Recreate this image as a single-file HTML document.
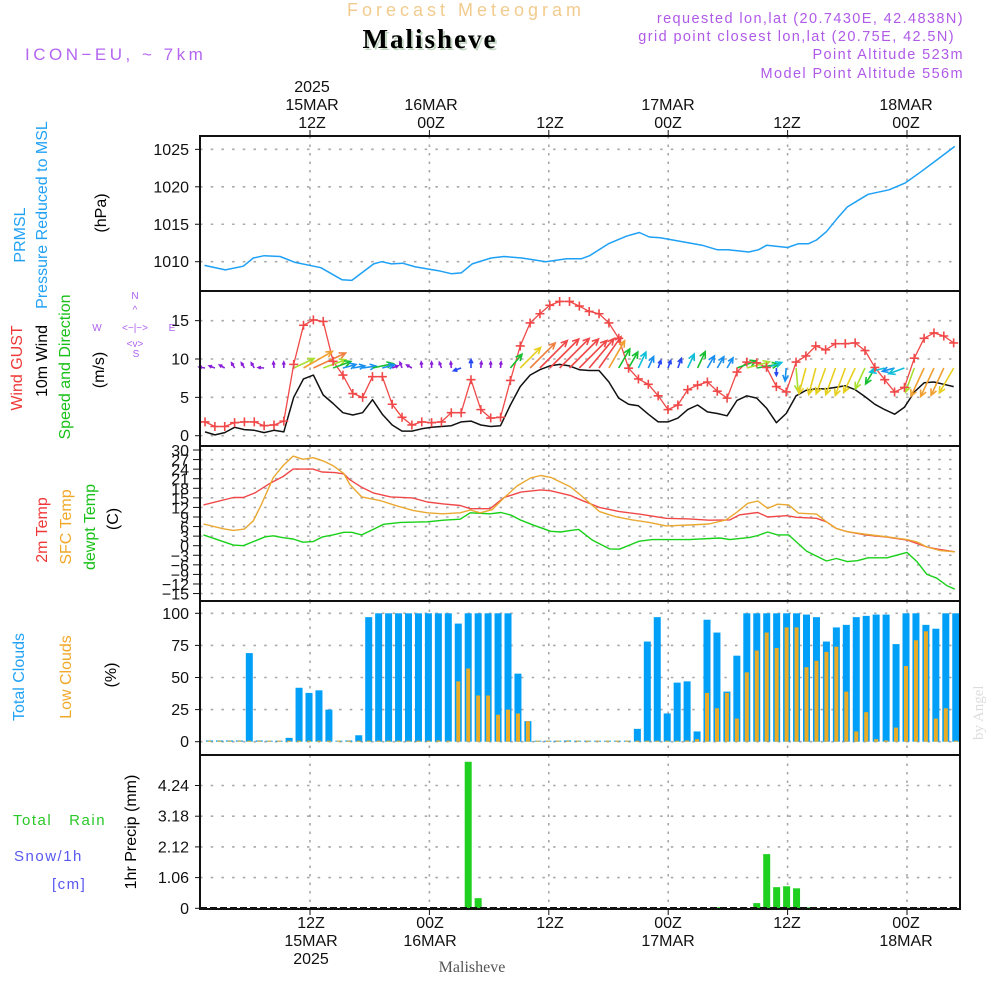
<!DOCTYPE html>
<html><head><meta charset="utf-8"><title>Meteogram Malisheve</title>
<style>
html,body{margin:0;padding:0;background:#fff;}
svg{display:block;font-family:"Liberation Sans",sans-serif;}
</style></head>
<body>
<svg id="chart" width="1000" height="1000" viewBox="0 0 1000 1000" xmlns="http://www.w3.org/2000/svg">
  <rect x="0" y="0" width="1000" height="1000" fill="#fff"/>
  <text x="466" y="16" text-anchor="middle" font-size="18" fill="#f2cb8e" letter-spacing="4">Forecast Meteogram</text>
  <text x="432" y="50" text-anchor="middle" font-family="Liberation Serif,serif" font-weight="bold" font-size="27" fill="#c6d8c6" letter-spacing="2">Malisheve</text>
  <text x="430" y="48" text-anchor="middle" font-family="Liberation Serif,serif" font-weight="bold" font-size="27" fill="#000" letter-spacing="2">Malisheve</text>
  <text x="25" y="60" font-size="17" fill="#b466f0" letter-spacing="3.5">ICON−EU, ~ 7km</text>
  <g font-size="14.5" fill="#b05ae8" text-anchor="end" letter-spacing="1.4">
    <text x="964" y="23">requested lon,lat (20.7430E, 42.4838N)</text>
    <text x="955" y="41">grid point closest lon,lat (20.75E, 42.5N)</text>
    <text x="964" y="59">Point Altitude 523m</text>
    <text x="964" y="78">Model Point Altitude 556m</text>
  </g>
  <g font-size="16" fill="#111" text-anchor="middle">
    <text x="312" y="92">2025</text>
    <text x="312" y="110">15MAR</text>
    <text x="312" y="128">12Z</text>
    <text x="431" y="110">16MAR</text>
    <text x="431" y="128">00Z</text>
    <text x="550" y="128">12Z</text>
    <text x="668" y="110">17MAR</text>
    <text x="668" y="128">00Z</text>
    <text x="787" y="128">12Z</text>
    <text x="906" y="110">18MAR</text>
    <text x="906" y="128">00Z</text>
  </g>
  <g font-size="16" fill="#111" text-anchor="middle">
    <text x="311" y="928">12Z</text>
    <text x="311" y="946">15MAR</text>
    <text x="311" y="964">2025</text>
    <text x="430" y="928">00Z</text>
    <text x="430" y="946">16MAR</text>
    <text x="550" y="928">12Z</text>
    <text x="668" y="928">00Z</text>
    <text x="668" y="946">17MAR</text>
    <text x="787" y="928">12Z</text>
    <text x="906" y="928">00Z</text>
    <text x="906" y="946">18MAR</text>
  </g>
  <text x="472" y="972" text-anchor="middle" font-family="Liberation Serif,serif" font-size="16" fill="#555">Malisheve</text>
  <text transform="translate(983,740) rotate(-90)" font-family="Liberation Serif,serif" font-size="15" fill="#ddd">by Angel</text>

  <g font-size="16">
    <text transform="translate(25,235) rotate(-90)" text-anchor="middle" fill="#22a2f5">PRMSL</text>
    <text transform="translate(47,215) rotate(-90)" text-anchor="middle" fill="#22a2f5">Pressure Reduced to MSL</text>
    <text transform="translate(106,213) rotate(-90)" text-anchor="middle" fill="#000">(hPa)</text>
  </g>
  <g font-size="16">
    <text transform="translate(22,368) rotate(-90)" text-anchor="middle" fill="#f03838">Wind GUST</text>
    <text transform="translate(47,361) rotate(-90)" text-anchor="middle" fill="#000">10m Wind</text>
    <text transform="translate(70,367) rotate(-90)" text-anchor="middle" fill="#18c018">Speed and Direction</text>
    <text transform="translate(104,370) rotate(-90)" text-anchor="middle" fill="#000">(m/s)</text>
  </g>
  <g font-size="10" fill="#b060f0" text-anchor="middle">
    <text x="135" y="299">N</text>
    <text x="97" y="331">W</text>
    <text x="172" y="331">E</text>
    <text x="136" y="357">S</text>
    <text x="135" y="331">&lt;−|−&gt;</text>
    <text x="135" y="313">^</text>
    <text x="135" y="347">&lt;v&gt;</text>
  </g>
  <g font-size="16">
    <text transform="translate(47,530) rotate(-90)" text-anchor="middle" fill="#f03838">2m Temp</text>
    <text transform="translate(71,527) rotate(-90)" text-anchor="middle" fill="#f0a828">SFC Temp</text>
    <text transform="translate(95,527) rotate(-90)" text-anchor="middle" fill="#18c018">dewpt Temp</text>
    <text transform="translate(118,519) rotate(-90)" text-anchor="middle" fill="#000">(C)</text>
  </g>
  <g font-size="16">
    <text transform="translate(24,677) rotate(-90)" text-anchor="middle" fill="#22a2f5">Total Clouds</text>
    <text transform="translate(71,677) rotate(-90)" text-anchor="middle" fill="#f0a828">Low Clouds</text>
    <text transform="translate(116,675) rotate(-90)" text-anchor="middle" fill="#000">(%)</text>
  </g>
  <g font-size="15" letter-spacing="1.5">
    <text x="13" y="825" fill="#28c828">Total&#160;&#160;&#160;Rain</text>
    <text x="14" y="861" fill="#5858f0">Snow/1h</text>
    <text x="52" y="889" fill="#5858f0">[cm]</text>
    <text transform="translate(136,832) rotate(-90)" text-anchor="middle" font-size="16" letter-spacing="0" fill="#000">1hr Precip (mm)</text>
  </g>

  <g id="plots"></g>
</svg>
<script>
// ---------------- DATA ----------------
const pressureHours = [1.4,3.5,5.3,6.3,7.4,9,10.5,13.1,15.2,16.2,18.4,19.2,20.2,21.3,22.6,24.9,26.2,27.2,28.3,30.2,31.5,33.3,35.7,37.8,39.3,40.1,42,43.8,45.1,46.1,47.2,49.3,51.4,52.9,54,56.1,57.1,57.9,60,61.1,62.1,62.9,63.9,65,66,67.1,68.1,70.2,71.8,73.4,74.9,76.8];
const pressureValues = [1009.5,1008.9,1009.4,1010.5,1010.8,1010.7,1009.9,1009.2,1007.6,1007.5,1009.7,1010,1009.7,1009.8,1009.3,1008.8,1008.4,1008.5,1009.7,1010.5,1010.7,1010.5,1010,1010.4,1010.4,1010.8,1012.4,1013.4,1013.9,1013.3,1013.2,1012.7,1012.2,1011.6,1011.6,1011.3,1011.6,1012.2,1011.9,1012.4,1012.4,1012.9,1014,1015.8,1017.3,1018.2,1019,1019.6,1020.5,1022,1023.5,1025.4];
const pressureTicks = [1010,1015,1020,1025];

const windGust = [1.8,1.2,1.2,1.7,1.8,1.8,1.3,1.4,1.9,9.3,14.4,15.1,14.9,9.7,7.9,5.5,5.0,7.7,7.7,4.1,2.4,1.4,1.8,1.7,1.8,3.0,3.0,7.3,3.4,2.3,2.4,7.2,11.7,14.7,15.9,17.0,17.5,17.5,16.9,16.2,
  15.9,14.7,12.7,8.8,7.4,6.7,5.2,3.4,4.0,6.0,6.6,7.0,5.8,4.9,8.3,9.6,9.5,8.9,6.4,5.7,9.6,10.4,11.7,11.2,12.0,12.0,12.1,11.1,8.9,7.3,5.7,6.3,10.1,12.7,13.4,13.0,12.1];
const wind10m = [0.5,0.1,0.4,1.1,0.8,0.7,0.4,0.7,0.5,5.0,7.4,7.9,5.3,4.2,3.0,2.7,3.0,4.7,2.8,1.4,0.6,0.6,0.9,1.1,1.2,1.3,1.8,1.9,1.4,1.2,1.3,4.0,6.4,7.9,8.6,9.1,9.3,9.1,8.6,8.5,
  8.5,7.0,4.9,4.1,3.9,2.8,1.8,1.8,2.3,3.4,4.0,3.1,2.9,2.6,4.6,5.2,4.9,3.6,1.7,2.9,5.2,5.9,6.1,6.1,6.3,6.5,6.0,5.1,4.1,3.4,2.8,3.7,5.7,6.9,7.0,6.7,6.4];
const windArrowDir = [170,160,150,120,120,120,175,95,90, 25,30,25,20,20,15, 10,8,12,15,20, 110,150,95,90,110,95,200,90,85,90,85,50,
  45,45,45,45,45, 45,45,50,55,60,60, 60,65,65,70, 70,70,65,65,60,60,60, 20,15,10,20, 270,265,275, 255,255,250,250,250,245,245,240, 195,195,200, 250, 245,245,245,240];
const windTicks = [0,5,10,15];
const windStartHour = 1.45;
const windStepHours = 0.99;

const temp2mHours = [1.3,4.3,5.3,6.5,8,9.3,10.3,12.3,13.2,14.5,15.4,16,17.2,18.4,20.1,22.3,23.8,25.4,27.1,28.1,30.1,31.5,33.2,35.2,36.2,38.2,39.4,41.1,43.1,45.1,47.8,50.1,52.1,54.2,55.2,57,58,59.9,60.9,62.9,63.9,64.9,66,68,70,72,73,74,75.3,76.8];
const temp2mValues = [12.8,15.1,15.1,16.6,19.6,21.7,24,24,23.1,22.9,22.5,20.7,18.3,16.5,15.3,15,13.7,13.1,12.6,11.6,11.6,15.1,16.8,17.5,17.2,15.7,14.1,12,10.7,9.9,8.6,8.4,8,8.1,9.7,10.4,9,9.4,8.9,8.6,7.5,5.4,4.4,3.3,2.7,1.8,0.7,-0.4,-1.2,-1.9];
const tempSfcHours = [1.3,3.3,4.3,5.4,6.3,7.1,8.3,9.3,10.3,11.3,12.3,13.3,14.3,15.4,16,17.2,19.1,20.7,22.4,23.8,25.3,27.1,28.1,29.1,30.3,31.5,32.8,34.2,35.2,36.2,38.2,39,41.1,42.7,44.4,46.1,47.8,50.1,52.1,53.8,54.9,56,57,58,59,60.1,61.1,62.9,63.9,64.9,66,68,70,72,73,74,75.3,76.8];
const tempSfcValues = [6.8,5.3,4.8,5.2,7.8,12.8,21.3,25.1,28.1,27.1,27.6,26.6,25.1,22.6,19.2,15.3,14.1,12.5,11,10.3,10,10.3,11.2,10.3,11.3,15,18.7,21.3,22,21.4,18.4,16.4,10.7,9.1,8.1,7.3,6.2,6.5,6.8,8.1,10.5,13.3,14,11.7,13,12.8,10.2,9.9,7.5,5.4,4.4,3.5,2.8,1.9,1.2,-0.4,-1.5,-1.9];
const dewptHours = [1.3,4.3,5.3,6.3,7.5,8.3,9.3,10.3,11.3,12.3,13.3,14.3,15.4,16.2,17.2,18.2,19.4,21.1,23.8,25.4,27.1,28.1,30.1,31.2,32.2,33.2,34.5,36.2,37.2,38.2,39,40.4,42.1,43.1,45.1,46.4,47.8,50.1,53.2,54.2,56.2,57,58,59,60.1,61.9,63.9,64.9,66,67,68.1,70,72,73,74,75,76,76.8];
const dewptValues = [3.4,0.2,0,1.3,2.8,3.1,2.5,2.1,1.1,1.3,2.8,3.4,4.2,4.2,3.4,4.9,6.7,7.3,7.5,8,8.3,10.3,10,10.4,9.6,8,6.4,4.5,4.3,4.8,5.1,1.7,-1,-1.1,1.4,1.9,1.9,1.9,2.4,1.9,2.6,3.2,4.3,3.4,3.4,-1.7,-4.8,-4,-5,-4.7,-3.8,-3.8,-2.1,-5,-9,-10.2,-12.5,-13.6];
const tempTicks = [-15,-12,-9,-6,-3,0,3,6,9,12,15,18,21,24,27,30];

const cloudStartHour = 2;
const totalClouds = [1,1,1,1,69,1,0,0,3,42,38,40,25,0,1,5,97,100,100,100,100,100,100,100,100,92,100,100,100,100,100,53,16,0,0,0,1,0,0,
  0,0,0,0,
  10,78,97,22,46,47,8,95,85,39,67,100,100,100,100,100,100,99,97,78,89,91,97,98,99,99,76,100,100,91,88,100,100];
const lowClouds = [0,0,0,0,0,0,0,0,0,0,0,0,0,0,0,0,0,0,0,0,0,0,0,1,0,47,57,36,36,21,25,22,16,
  0,0,0,0,0,0,0,0,0,0,0,0,0,
  0,0,1,2,38,26,38,18,54,71,85,73,89,89,58,63,70,74,39,8,23,2,1,11,59,79,86,18,26,0];
const cloudTicks = [0,25,50,75,100];

const precipHours = [28,29,53,57,58,59,60,61,62];
const precipValues = [5.06,0.35,0.03,0.18,1.87,0.73,0.76,0.69,0.03];
const precipTicks = [0,1.06,2.12,3.18,4.24];

const timeGridHours = [12,24,36,48,60,72];

// ---------------- SCALES ----------------
const PL = 200, PR = 960;
const panels = {
  pressure:{top:136,bottom:291},
  wind:{top:291,bottom:446},
  temp:{top:446,bottom:601},
  cloud:{top:601,bottom:755},
  precip:{top:755,bottom:909}
};
function xT(t){ return 310 + (t-12)*9.95; }
function yP(v){ return 261.7 - (v-1010)*7.49; }
function yW(v){ return 435.7 - v*7.67; }
function yT(v){ return 450 + (30-v)*3.19; }
function yC(v){ return 741.7 - v*1.284; }
function yR(v){ return 908.3 - v*28.96; }

const NS = "http://www.w3.org/2000/svg";
const root = document.getElementById('plots');
function mk(tag, attrs, parent){
  const el = document.createElementNS(NS, tag);
  for (const k in attrs) el.setAttribute(k, attrs[k]);
  (parent||root).appendChild(el);
  return el;
}
function grp(name){
  const g = mk('g', {});
  
  
  return g;
}

function hGrid(g, ys){
  ys.forEach(y=>{
    const l = mk('line',{x1:PL,x2:PR,y1:y,y2:y,stroke:'#a8a8a8','stroke-width':1.6,'stroke-dasharray':'2.5 8.2'}, g);
    
    
  });
}
function vGrid(g, p){
  timeGridHours.forEach(t=>{
    const x = xT(t);
    const l = mk('line',{x1:x,x2:x,y1:p.top,y2:p.bottom,stroke:'#a8a8a8','stroke-width':1.6,'stroke-dasharray':'2.5 6'}, g);
    
    
  });
}
function yLabels(g, ticks, yf, fmt, size){
  ticks.forEach(v=>{
    const y = yf(v);
    const t = mk('text',{x:189,y:y+5.5,'text-anchor':'end','font-size':size||16,fill:'#111'}, g);
    t.textContent = fmt ? fmt(v) : String(v);
    
    
    const tk = mk('line',{x1:195,x2:200,y1:y,y2:y,stroke:'#111','stroke-width':1}, g);
    
    
  });
}
function polyline(g, xs, ys, color, width, name){
  const pts = xs.map((x,i)=>x.toFixed(1)+','+ys[i].toFixed(1)).join(' ');
  const pl = mk('polyline',{points:pts,fill:'none',stroke:color,'stroke-width':width||1.4,'stroke-linejoin':'round'}, g);
  
  
  return pl;
}

// Pressure panel
const gP = grp('pressure-panel');
hGrid(gP, pressureTicks.map(yP));
vGrid(gP, panels.pressure);
yLabels(gP, pressureTicks, yP);
polyline(gP, pressureHours.map(xT), pressureValues.map(yP), '#1ea0f5', 1.5, 'pressure-line');

// Wind panel
const gW = grp('wind-panel');
hGrid(gW, windTicks.map(yW));
vGrid(gW, panels.wind);
yLabels(gW, windTicks, yW);
const windX = windGust.map((v,i)=>xT(windStartHour + i*windStepHours));
polyline(gW, windX, wind10m.map(yW), '#111', 1.5, 'wind-10m-line');
function speedColor(s){
  if (s < 1.5) return '#8a20d8';
  if (s < 2.5) return '#2848f0';
  if (s < 3.3) return '#1890f0';
  if (s < 4.0) return '#10c0d8';
  if (s < 5.0) return '#18c030';
  if (s < 5.8) return '#a8e030';
  if (s < 6.6) return '#e8d020';
  if (s < 7.6) return '#f0a030';
  if (s < 8.4) return '#f08040';
  return '#f04848';
}
const gArr = grp('wind-arrows');
wind10m.forEach((s,i)=>{
  const x0 = windX[i], y0 = 368;
  const a = windArrowDir[i]*Math.PI/180;
  const len = Math.max(6, s*4.5);
  const x1 = x0 + Math.cos(a)*len, y1 = y0 - Math.sin(a)*len;
  const col = speedColor(s);
  const h = Math.min(7, len*0.5);
  const b1 = a + Math.PI - 0.45, b2 = a + Math.PI + 0.45;
  const d = `M${x0.toFixed(1)},${y0.toFixed(1)} L${x1.toFixed(1)},${y1.toFixed(1)} M${(x1+Math.cos(b1)*h).toFixed(1)},${(y1-Math.sin(b1)*h).toFixed(1)} L${x1.toFixed(1)},${y1.toFixed(1)} L${(x1+Math.cos(b2)*h).toFixed(1)},${(y1-Math.sin(b2)*h).toFixed(1)}`;
  const p = mk('path',{d:d,fill:'none',stroke:col,'stroke-width':1.6}, gArr);
  
  
});
polyline(gW, windX, windGust.map(yW), '#f04848', 1.3, 'wind-gust-line');
const gGm = grp('wind-gust-markers');
windGust.forEach((v,i)=>{
  const x = windX[i], y = yW(v);
  const m = mk('path',{d:`M${x-4.5},${y} H${x+4.5} M${x},${y-4.5} V${y+4.5}`,stroke:'#f04848','stroke-width':1.6}, gGm);
  
  
});

// Temperature panel
const gT = grp('temperature-panel');
hGrid(gT, tempTicks.map(yT));
vGrid(gT, panels.temp);
tempTicks.forEach(v=>{
  const y = yT(v);
  const t = mk('text',{x:189,y:y+6,'text-anchor':'end','font-size':16,fill:'#111'}, gT);
  t.textContent = v < 0 ? '−'+Math.abs(v) : String(v);
  
  
  const tk = mk('line',{x1:193,x2:200,y1:y,y2:y,stroke:'#111','stroke-width':1}, gT);
  
  
});
polyline(gT, dewptHours.map(xT), dewptValues.map(yT), '#18d018', 1.4, 'dewpoint-line');
polyline(gT, temp2mHours.map(xT), temp2mValues.map(yT), '#f04848', 1.4, 'temp-2m-line');
polyline(gT, tempSfcHours.map(xT), tempSfcValues.map(yT), '#eaa830', 1.4, 'temp-sfc-line');

// Cloud panel
const gC = grp('cloud-panel');
hGrid(gC, cloudTicks.map(yC));
vGrid(gC, panels.cloud);
yLabels(gC, cloudTicks, yC);
totalClouds.forEach((v,i)=>{
  const x = xT(cloudStartHour + i - 0.1);
  const h = Math.max(1, v*1.284);
  const r = mk('rect',{x:x-3.5,y:yC(0)-h,width:7,height:h,fill:'#009ff8'}, gC);
  
  
});
lowClouds.forEach((v,i)=>{
  const x = xT(cloudStartHour + i - 0.1);
  const h = Math.max(1, v*1.284);
  const r = mk('rect',{x:x-2,y:yC(0)-h,width:4,height:h,fill:'#e8ac28'}, gC);
  
  
});

// Precip panel
const gR = grp('precip-panel');
hGrid(gR, precipTicks.map(yR));
vGrid(gR, panels.precip);
yLabels(gR, precipTicks, yR, v=> v===0 ? '0' : v.toFixed(2));
precipHours.forEach((t,i)=>{
  const x = xT(t - 0.1);
  const h = Math.max(1, precipValues[i]*28.96);
  const r = mk('rect',{x:x-3.5,y:yR(0)-h,width:7,height:h,fill:'#20d020'}, gR);
  
  
});
const base = mk('line',{x1:PL,x2:PR,y1:908,y2:908,stroke:'#111','stroke-width':2,'stroke-dasharray':'7 3'}, gR);



// Frames and time ticks
const gF = grp('panel-frames');
Object.keys(panels).forEach(k=>{
  const p = panels[k];
  const r = mk('rect',{x:PL,y:p.top,width:PR-PL,height:p.bottom-p.top,fill:'none',stroke:'#111','stroke-width':2}, gF);
  
  
});
timeGridHours.forEach(t=>{
  const x = xT(t);
  const a = mk('line',{x1:x,x2:x,y1:130,y2:136,stroke:'#111','stroke-width':1}, gF);
  
  
  const b = mk('line',{x1:x,x2:x,y1:909,y2:915,stroke:'#111','stroke-width':1}, gF);
  
  
});
</script>
</body></html>
